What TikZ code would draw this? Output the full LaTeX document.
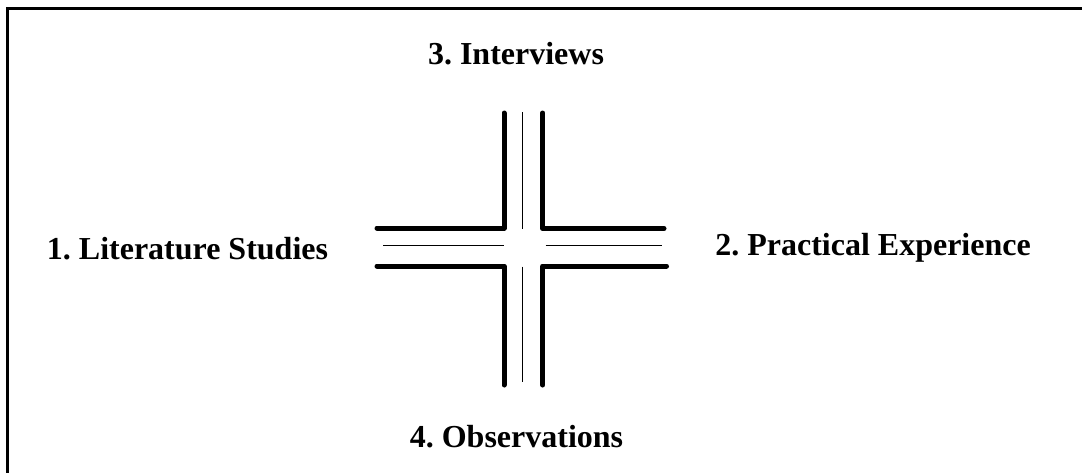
\documentclass[tikz,border=0pt]{standalone}
\usepackage{fontspec}
\setmainfont{Liberation Serif}
\frenchspacing
\begin{document}
\begin{tikzpicture}[x=1pt,y=-1pt,
  thickline/.style={line width=5pt,line cap=round,line join=round},
  thinline/.style={line width=1.3pt},
  label/.style={anchor=base,inner sep=0pt,font=\fontsize{32}{38}\selectfont\bfseries}]
\useasboundingbox (0,0) rectangle (1082,472);
\fill[white] (0,0) rectangle (1082,472);
% frame
\draw[line width=2.2pt] (7.5,480) -- (7.5,8.5) -- (1090,8.5);
% thick corners
\draw[thickline] (504,113) -- (504,228) -- (377,228);
\draw[thickline] (542.7,113) -- (542.7,228.5) -- (664,228.5);
\draw[thickline] (377,266) -- (504,266) -- (504,385);
\draw[thickline] (666.5,266) -- (542.7,266) -- (542.7,385);
% thin lines
\draw[thinline] (522.3,112) -- (522.3,229);
\draw[thinline] (522.3,266.7) -- (522.3,381.7);
\draw[thinline] (383,245.3) -- (504,245.3);
\draw[thinline] (545.7,245.3) -- (661.7,245.3);
% labels
\node[label] (lit) at (187.5,259) {1. Literature Studies};
\node[label] (prac) at (873,255) {2. Practical Experience};
\node[label] (int) at (516,64) {3. Interviews};
\node[label] (obs) at (516.5,447) {4. Observations};
\end{tikzpicture}
\end{document}
